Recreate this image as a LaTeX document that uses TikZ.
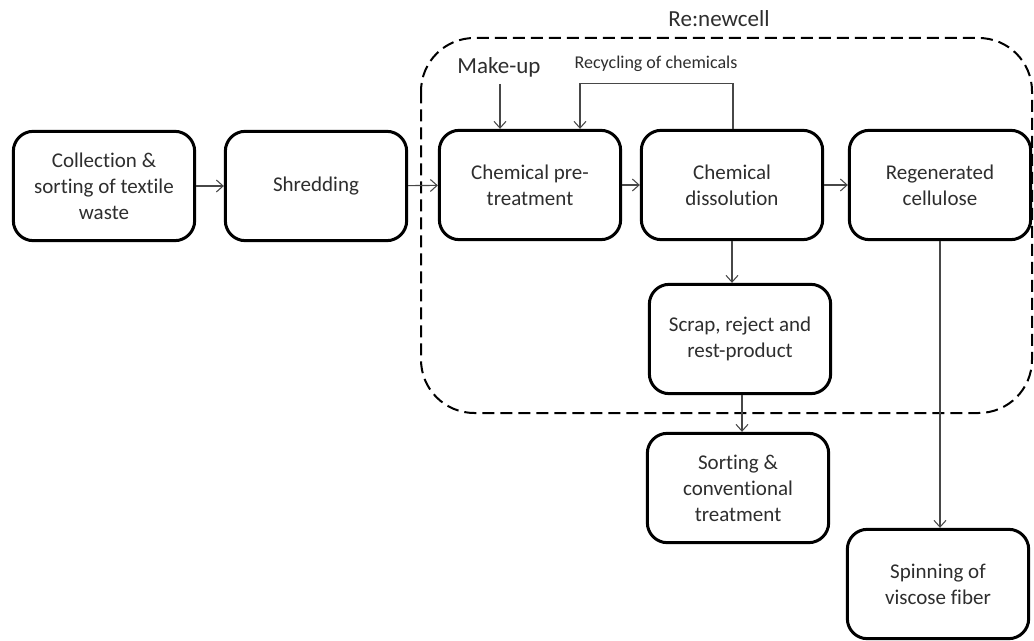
\documentclass[tikz,border=0pt]{standalone}
\usepackage{fontspec}
\setmainfont{Carlito}[Ligatures=NoCommon]
\usetikzlibrary{arrows.meta,calc}
\begin{document}
\begin{tikzpicture}[x=0.75pt,y=-0.75pt,
  box/.style={draw=black, line width=2.25pt, rounded corners=15pt,
    minimum width=136pt, minimum height=82pt, align=center, text=black!82,
    font=\fontsize{15.75}{19.5}\selectfont, inner sep=0pt},
  conn/.style={draw=black!72, line width=0.8pt, -{Straight Barb[length=5pt,width=9pt]}},
  region/.style={draw=black, line width=1.5pt, dash pattern=on 9pt off 4.5pt, rounded corners=40pt},
  biglabel/.style={text=black!82, font=\fontsize{17.25}{20}\selectfont, inner sep=0pt},
  smalllabel/.style={text=black!82, font=\fontsize{13.5}{16}\selectfont, inner sep=0pt}]
\useasboundingbox (0,0) rectangle (1034,641);
\fill[white] (0,0) rectangle (1034,641);

% Re:newcell region
\draw[region] (421,38) rectangle (1032,413);
\node[biglabel] (rn) at (719,19) {Re:newcell};

% process boxes
\node[box] (coll) at (104,186) {Collection \&\\sorting of textile\\waste};
\node[box] (shred) at (316,186) {Shredding};
\node[box] (pre) at (530,185) {Chemical pre-\\treatment};
\node[box] (diss) at (732,185) {Chemical\\dissolution};
\node[box] (regen) at (940,185) {Regenerated\\cellulose};
\node[box] (scrap) at (740,339) {Scrap, reject and\\rest-product};
\node[box] (sort) at (738,488) {Sorting \&\\conventional\\treatment};
\node[box] (spin) at (938,584) {Spinning of\\viscose fiber};

% labels
\node[biglabel] (mk) at (499,67) {Make-up};
\node[smalllabel] (rc) at (656,64) {Recycling of chemicals};
\coordinate (rctop) at ($(diss.north)+(1,-45)$);
\coordinate (rcin) at ($(pre.north)+(50,0)$);
\coordinate (mkin) at ($(pre.north)+(-30,0)$);
\coordinate (mkout) at ($(mkin)+(0,-45)$);
\coordinate (scout) at ($(scrap.south)+(2,0)$);
\coordinate (soin) at ($(sort.north)+(4,0)$);

% connectors
\draw[conn] (coll) -- (shred);
\draw[conn] (shred) -- (pre);
\draw[conn] (pre) -- (diss);
\draw[conn] (diss) -- (regen);
\draw[conn] (mkout) -- (mkin);
\draw[conn] ($(diss.north)+(1,0)$) -- (rctop) -| (rcin);
\draw[conn] (diss.south) -- (diss.south |- scrap.north);
\draw[conn] (scout) -- (soin);
\draw[conn] (regen.south) -- (regen.south |- spin.north);
\end{tikzpicture}
\end{document}
